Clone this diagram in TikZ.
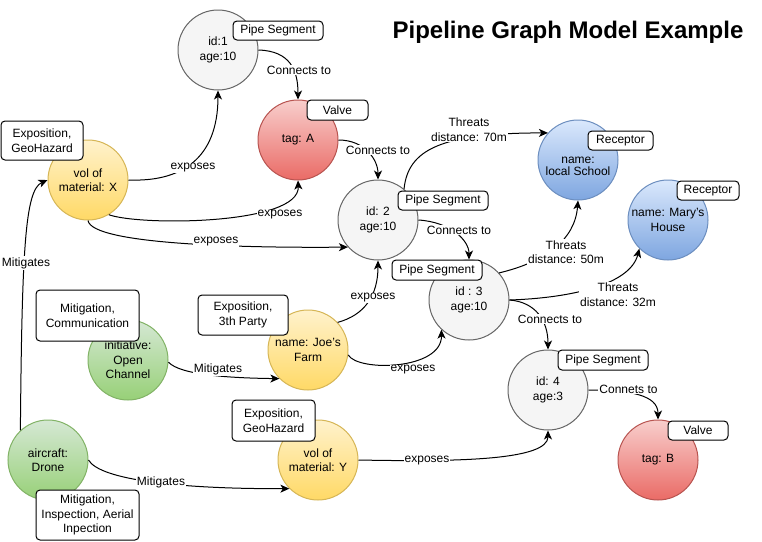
\documentclass[tikz,border=0pt]{standalone}
\usepackage{fontspec}
\setmainfont{Liberation Sans}
\usetikzlibrary{arrows.meta}
\definecolor{gfill}{HTML}{F5F5F5}
\definecolor{gline}{HTML}{666666}
\definecolor{rtop}{HTML}{F8CECC}
\definecolor{rbot}{HTML}{EA6B66}
\definecolor{rline}{HTML}{B85450}
\definecolor{ytop}{HTML}{FFF2CC}
\definecolor{ybot}{HTML}{FFD966}
\definecolor{yline}{HTML}{D6B656}
\definecolor{gtop}{HTML}{D5E8D4}
\definecolor{gbot}{HTML}{97D077}
\definecolor{grline}{HTML}{82B366}
\definecolor{btop}{HTML}{DAE8FC}
\definecolor{bbot}{HTML}{7EA6E0}
\definecolor{bline}{HTML}{6C8EBF}
\newcommand\txtfont{\fontsize{12}{14.5}\selectfont}
\tikzset{
  ent/.style={circle, minimum size=80pt, inner sep=0pt, align=center, font=\txtfont, line width=1pt},
  pipe/.style={ent, draw=gline, fill=gfill},
  valve/.style={ent, draw=rline, top color=rtop, bottom color=rbot},
  hazard/.style={ent, draw=yline, top color=ytop, bottom color=ybot},
  mitig/.style={ent, draw=grline, top color=gtop, bottom color=gbot},
  recep/.style={ent, draw=bline, top color=btop, bottom color=bbot},
  tagbox/.style={draw=black, fill=white, rounded corners=4pt, line width=1pt, align=center, font=\txtfont, inner sep=0pt},
  conn/.style={draw=black, line width=1pt, -{Stealth[length=9pt,width=8pt,inset=2.5pt]}},
  lbl/.style={fill=white, inner sep=1pt, align=center, font=\txtfont}
}
\begin{document}
\begin{tikzpicture}[x=1pt,y=-1pt]
\useasboundingbox[fill=white] (0,0) rectangle (762,541);

% title
\node[font=\fontsize{24}{28}\selectfont\bfseries, anchor=base] (title) at (568,38.5) {Pipeline Graph Model Example};

% entities
\node[pipe] (id1) at (218,50) {id:1\\age:10};
\node[valve] (tagA) at (298,140) {tag: A};
\node[hazard] (volX) at (88,180) {vol of\\material: X};
\node[pipe] (id2) at (378,220) {id: 2\\age:10};
\node[pipe] (id3) at (469,300) {id : 3\\age:10};
\node[pipe] (id4) at (548,390) {id: 4\\age:3};
\node[valve] (tagB) at (658,460) {tag: B};
\node[recep] (school) at (578,160) {\raisebox{-7pt}[\height][\depth]{\begin{tabular}{@{}c@{}}name:\\[-2.5pt]local School\end{tabular}}};
\node[recep] (mary) at (668,220) {name: Mary's\\House};
\node[mitig] (oc) at (128,360) {initiative:\\Open\\Channel};
\node[hazard] (joe) at (308,350) {name: Joe's\\Farm};
\node[hazard] (volY) at (318,460) {vol of\\material: Y};
\node[mitig] (drone) at (48,460) {aircraft:\\Drone};

% connectors
\draw[conn] (id1.east) .. controls (290,51) and (298,70) .. (tagA.north)
  node[lbl] at (299,70) {Connects to};
\draw[conn] (volX.east) .. controls (180,182) and (218,160) .. (id1.south)
  node[lbl] at (193,168) {exposes};
\draw[conn] (volX.-59) .. controls (140,226) and (300,225) .. (tagA.south)
  node[lbl] at (280,215) {exposes};
\draw[conn] (volX.south) .. controls (92,245) and (250,248) .. (id2.222)
  node[lbl] at (216,242) {exposes};
\draw[conn] (tagA.east) .. controls (365,140) and (378,160) .. (id2.north)
  node[lbl] at (378,150) {Connects to};
\draw[conn] (id2.50) .. controls (408,150) and (440,133) .. (school.138)
  node[lbl] at (469,129.5) {Threats\\distance: 70m};
\draw[conn] (id2.east) .. controls (450,222) and (469,240) .. (id3.north)
  node[lbl] at (459,230) {Connects to};
\draw[conn] (id3.42) .. controls (545,262) and (575,240) .. (school.south)
  node[lbl] at (566,252) {Threats\\distance: 50m};
\draw[conn] (id3.east) .. controls (570,298) and (630,285) .. (mary.225)
  node[lbl] at (618,294.5) {Threats\\distance: 32m};
\draw[conn] (id3.east) .. controls (535,302) and (548,320) .. (id4.north)
  node[lbl] at (550,319) {Connects to};
\draw[conn] (id4.east) .. controls (630,390) and (658,395) .. (tagB.north)
  node[lbl] at (628.5,389) {Connets to};
\draw[conn] (joe.43) .. controls (365,315) and (378,295) .. (id2.south)
  node[lbl] at (373,298) {exposes};
\draw[conn] (joe.-7) .. controls (358,372) and (442,370) .. (id3.227)
  node[lbl] at (413,370) {exposes};
\draw[conn] (oc.-3) .. controls (180,375) and (230,378) .. (joe.225)
  node[lbl] at (218,369.5) {Mitigates};
\draw[conn] (volY.east) .. controls (460,462) and (548,460) .. (id4.south)
  node[lbl] at (427,461) {exposes};
\draw[conn] (drone.east) .. controls (100,480) and (180,489) .. (volY.225)
  node[lbl] at (161,482) {Mitigates};
\draw[conn] (drone.133) .. controls (22,250) and (25,190) .. (volX.west)
  node[lbl] at (26,263) {Mitigates};

% type boxes
\node[tagbox, minimum width=90pt, minimum height=19pt] (b1) at (278,30.5) {Pipe Segment};
\node[tagbox, minimum width=61pt, minimum height=20pt] (b2) at (337.5,110) {Valve};
\node[tagbox, minimum width=82pt, minimum height=39pt] (b3) at (42,140.5) {Exposition,\\GeoHazard};
\node[tagbox, minimum width=90pt, minimum height=19pt] (b4) at (443,200.5) {Pipe Segment};
\node[tagbox, minimum width=90pt, minimum height=20pt] (b5) at (437,270) {Pipe Segment};
\node[tagbox, minimum width=90pt, minimum height=20pt] (b6) at (603,360) {Pipe Segment};
\node[tagbox, minimum width=60pt, minimum height=19pt] (b7) at (698,430.5) {Valve};
\node[tagbox, minimum width=65pt, minimum height=19pt] (b8) at (620.5,140.5) {Receptor};
\node[tagbox, minimum width=62pt, minimum height=19pt] (b9) at (708,190.5) {Receptor};
\node[tagbox, minimum width=103pt, minimum height=51pt] (b10) at (87.5,315.5) {Mitigation,\\Communication};
\node[tagbox, minimum width=90pt, minimum height=40pt] (b11) at (243,315) {Exposition,\\3th Party};
\node[tagbox, minimum width=83pt, minimum height=41pt] (b12) at (273.5,420.5) {Exposition,\\GeoHazard};
\node[tagbox, minimum width=103pt, minimum height=50pt] (b13) at (87.5,515) {Mitigation,\\Inspection, Aerial\\Inpection};
\end{tikzpicture}
\end{document}
